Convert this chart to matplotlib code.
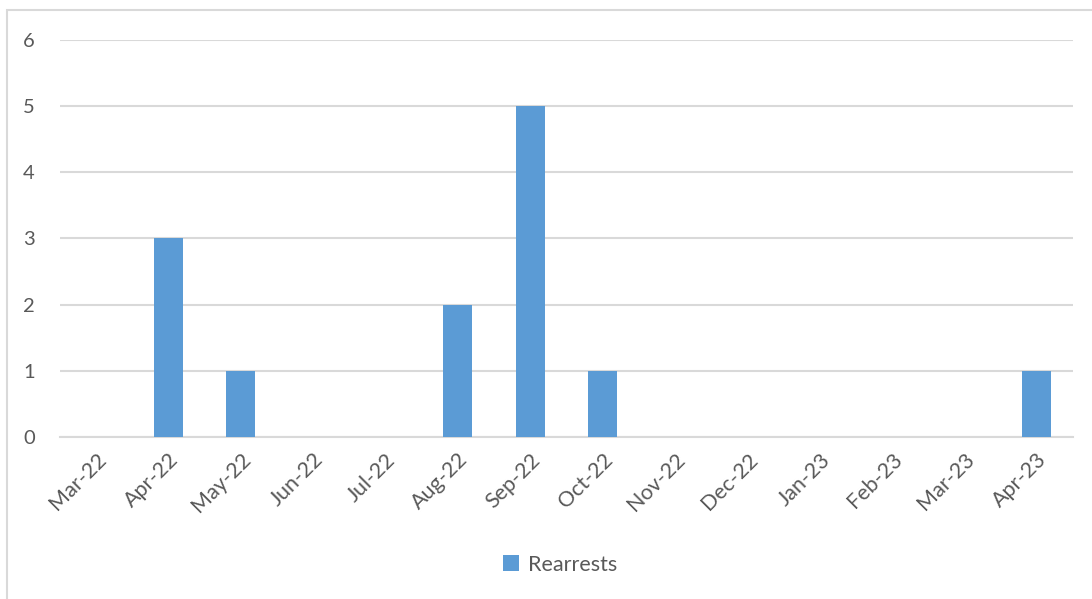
import matplotlib.pyplot as plt
from matplotlib.patches import Rectangle

months = ['Mar-22', 'Apr-22', 'May-22', 'Jun-22', 'Jul-22', 'Aug-22', 'Sep-22',
          'Oct-22', 'Nov-22', 'Dec-22', 'Jan-23', 'Feb-23', 'Mar-23', 'Apr-23']
rearrests = [0, 3, 1, 0, 0, 2, 5, 1, 0, 0, 0, 0, 0, 1]

plt.rcParams['font.family'] = ['Lato', 'DejaVu Sans']
grey = '#595959'

fig = plt.figure(figsize=(10.92, 5.99), dpi=100)
ax = fig.add_axes([0.0549, 0.2705, 0.9277, 0.6627])

# outer chart border
fig.patches.append(Rectangle((7 / 1092, -0.1), 1.2, 1 - 10 / 599 + 0.1,
                             transform=fig.transFigure, fill=False,
                             edgecolor='#D9D9D9', linewidth=1.5))

x = range(len(months))
ax.bar(x, rearrests, width=0.4, color='#5B9BD5', label='Rearrests', zorder=3)

ax.set_xlim(-0.5, len(months) - 0.5)
ax.set_ylim(0, 6)
ax.set_yticks(range(7))
ax.yaxis.grid(True, color='#D9D9D9', linewidth=1.5, zorder=0)
for s in ['top', 'right', 'left']:
    ax.spines[s].set_visible(False)
ax.spines['bottom'].set_color('#D9D9D9')
ax.spines['bottom'].set_linewidth(1.5)

ax.set_xticks(list(x))
ax.set_xticklabels(months, rotation=45, ha='right', rotation_mode='anchor')
ax.tick_params(axis='both', length=0, colors=grey)
ax.tick_params(axis='y', pad=18, labelsize=14.5)
ax.tick_params(axis='x', pad=9, labelsize=15.5)

fig.legend(loc='center', bbox_to_anchor=(0.513, 0.057), frameon=False,
           fontsize=15.5, labelcolor=grey, handlelength=0.75, handleheight=0.75,
           handletextpad=0.4)

fig.savefig('out.png', dpi=100)
